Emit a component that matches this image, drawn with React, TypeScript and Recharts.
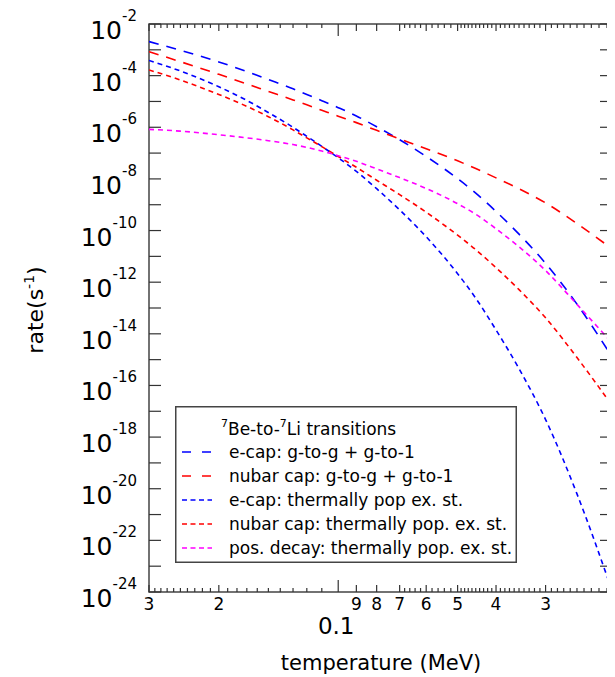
import React from "react";
import { LineChart, Line, XAxis, YAxis, ReferenceArea, Legend } from "recharts";

// temperature in MeV (x axis, log, decreasing to the right)
const temperature = [0.3, 0.25, 0.2, 0.17, 0.15, 0.13, 0.12, 0.11, 0.1, 0.09, 0.08, 0.07, 0.06, 0.05, 0.045, 0.04, 0.035, 0.03, 0.025, 0.0204];

// log10 of rate (s^-1)
const ecapGround = [-2.68, -3.02, -3.47, -3.84, -4.15, -4.51, -4.73, -4.97, -5.24, -5.56, -5.98, -6.48, -7.13, -7.99, -8.55, -9.26, -10.14, -11.27, -12.85, -14.89];
const nubarGround = [-3.07, -3.46, -3.95, -4.32, -4.61, -4.94, -5.13, -5.34, -5.57, -5.82, -6.12, -6.45, -6.83, -7.3, -7.6, -7.96, -8.38, -8.93, -9.73, -10.71];
const ecapThermal = [-3.41, -3.82, -4.43, -4.96, -5.43, -6.0, -6.35, -6.74, -7.18, -7.71, -8.38, -9.2, -10.24, -11.67, -12.62, -13.85, -15.35, -17.32, -20.2, -23.94];
const nubarThermal = [-3.78, -4.17, -4.73, -5.19, -5.59, -6.1, -6.41, -6.75, -7.13, -7.55, -8.05, -8.61, -9.29, -10.18, -10.74, -11.44, -12.29, -13.38, -14.92, -16.77];
const posThermal = [-6.08, -6.15, -6.29, -6.41, -6.52, -6.67, -6.78, -6.92, -7.1, -7.32, -7.61, -7.95, -8.37, -8.96, -9.37, -9.93, -10.63, -11.55, -12.86, -14.35];

const xMajorTicks = [0.3, 0.2, 0.1, 0.09, 0.08, 0.07, 0.06, 0.05, 0.04, 0.03];
const yTicks = [-24, -23, -22, -21, -20, -19, -18, -17, -16, -15, -14, -13, -12, -11, -10, -9, -8, -7, -6, -5, -4, -3, -2];

const series = [
  { key: "ecapGround", name: "e-cap: g-to-g + g-to-1", color: "#0000ff", dash: "10 8", legendDash: "9 11" },
  { key: "nubarGround", name: "nubar cap: g-to-g + g-to-1", color: "#ff0000", dash: "10 8", legendDash: "9 11" },
  { key: "ecapThermal", name: "e-cap: thermally pop ex. st.", color: "#0000ff", dash: "5 4", legendDash: "5 3.5" },
  { key: "nubarThermal", name: "nubar cap: thermally pop. ex. st.", color: "#ff0000", dash: "5 4", legendDash: "5 3.5" },
  { key: "posThermal", name: "pos. decay: thermally pop. ex. st.", color: "#ff00ff", dash: "5 4", legendDash: "5 3.5" },
];

const data = temperature.map((t, i) => ({
  t,
  ecapGround: ecapGround[i],
  nubarGround: nubarGround[i],
  ecapThermal: ecapThermal[i],
  nubarThermal: nubarThermal[i],
  posThermal: posThermal[i],
}));

// minor ticks (roughly like the original axis)
const xMinorTicks: number[] = [];
for (let i = 11; i <= 29; i++) if (i !== 20) xMinorTicks.push(i / 100);
for (let i = 52; i <= 68; i += 2) if (i !== 60) xMinorTicks.push(i / 1000);
for (let i = 21; i <= 49; i++) if (i !== 30 && i !== 40) xMinorTicks.push(i / 1000);
const xTicks = [...xMajorTicks, ...xMinorTicks];

const W = 607;
const H = 669;
const PT = 16;
const PB = 584;
const PL = 141;
const PR = 604;
const FONT = "DejaVu Sans";
const TICK = "#333";

const XTick = (props: any) => {
  const { x, payload } = props;
  const v = payload.value;
  const major = xMajorTicks.some((m) => Math.abs(m - v) < 1e-9);
  const decade = Math.abs(v - 0.1) < 1e-9;
  const len = decade ? 12 : major ? 7 : 4;
  let label = "";
  if (major && !decade) label = v > 0.1 ? String(Math.round(v * 10)) : String(Math.round(v * 100));
  return (
    <g>
      <line x1={x} x2={x} y1={PB} y2={PB - len} stroke={TICK} strokeWidth={1.2} />
      <line x1={x} x2={x} y1={PT} y2={PT + len} stroke={TICK} strokeWidth={1.2} />
      {label && (
        <text x={x} y={PB + 18} textAnchor="middle" fontSize={17} fill="#000" fontFamily={FONT}>
          {label}
        </text>
      )}
      {decade && (
        <text x={x - 2} y={PB + 42} textAnchor="middle" fontSize={23} fill="#000" fontFamily={FONT}>
          0.1
        </text>
      )}
    </g>
  );
};

const YTick = (props: any) => {
  const { y, payload } = props;
  const v = payload.value;
  return (
    <g>
      <line x1={PL} x2={PL + 12} y1={y} y2={y} stroke={TICK} strokeWidth={1.2} />
      <line x1={PR - 12} x2={PR} y1={y} y2={y} stroke={TICK} strokeWidth={1.2} />
      {v % 2 === 0 && (
        <text x={PL - 12} y={y + 15} textAnchor="end" fontSize={25} fill="#000" fontFamily={FONT}>
          10
          <tspan dy={-18} fontSize={15}>{String(v)}</tspan>
        </text>
      )}
    </g>
  );
};

const XTitle = () => (
  <text x={373} y={662} textAnchor="middle" fontSize={21} fill="#000" fontFamily={FONT}>
    temperature (MeV)
  </text>
);

const YTitle = () => (
  <text transform="translate(35,302) rotate(-90)" textAnchor="middle" fontSize={22} fill="#000" fontFamily={FONT}>
    rate(s
    <tspan dy={-9} fontSize={14}>-1</tspan>
    <tspan dy={9}>)</tspan>
  </text>
);

const LegendBox = () => (
  <svg width={342} height={157} style={{ display: "block", fontFamily: FONT }}>
    <rect x={0.75} y={0.75} width={340.5} height={155.5} fill="#fff" stroke="#444" strokeWidth={1.5} />
    <text x={46} y={29} fontSize={17} fill="#000">
      <tspan dy={-8} fontSize={11}>7</tspan>
      <tspan dy={8}>Be-to-</tspan>
      <tspan dy={-8} fontSize={11}>7</tspan>
      <tspan dy={8}>Li transitions</tspan>
    </text>
    {series.map((s, i) => (
      <g key={s.key}>
        <line x1={7} x2={37} y1={46 + 24 * i} y2={46 + 24 * i} stroke={s.color} strokeWidth={1.6} strokeDasharray={s.legendDash} />
        <text x={54} y={52 + 24 * i} fontSize={17} fill="#000">
          {s.name}
        </text>
      </g>
    ))}
  </svg>
);

export default function App() {
  return (
    <LineChart width={W} height={H} data={data} margin={{ top: PT, right: W - PR, bottom: 0, left: 0 }} style={{ fontFamily: FONT }}>
      <XAxis
        dataKey="t"
        type="number"
        scale="log"
        domain={[0.0204, 0.3]}
        allowDataOverflow
        reversed
        ticks={xTicks}
        interval={0}
        tick={<XTick />}
        tickLine={false}
        axisLine={false}
        height={H - PB}
        label={<XTitle />}
      />
      <YAxis
        type="number"
        domain={[-24, -2]}
        allowDataOverflow
        ticks={yTicks}
        interval={0}
        tick={<YTick />}
        tickLine={false}
        axisLine={false}
        width={PL}
        label={<YTitle />}
      />
      <ReferenceArea x1={0.3} x2={0.0204} y1={-24} y2={-2} fill="none" stroke="#444" strokeWidth={1.5} ifOverflow="visible" />
      {series.map((s) => (
        <Line
          key={s.key}
          dataKey={s.key}
          name={s.name}
          type="monotone"
          stroke={s.color}
          strokeWidth={1.6}
          strokeDasharray={s.dash}
          dot={false}
          activeDot={false}
          isAnimationActive={false}
        />
      ))}
      <Legend
        layout="vertical"
        align="center"
        verticalAlign="middle"
        content={<LegendBox />}
        wrapperStyle={{ position: "absolute", left: 167, top: 398, width: 342, height: 157 }}
      />
    </LineChart>
  );
}
